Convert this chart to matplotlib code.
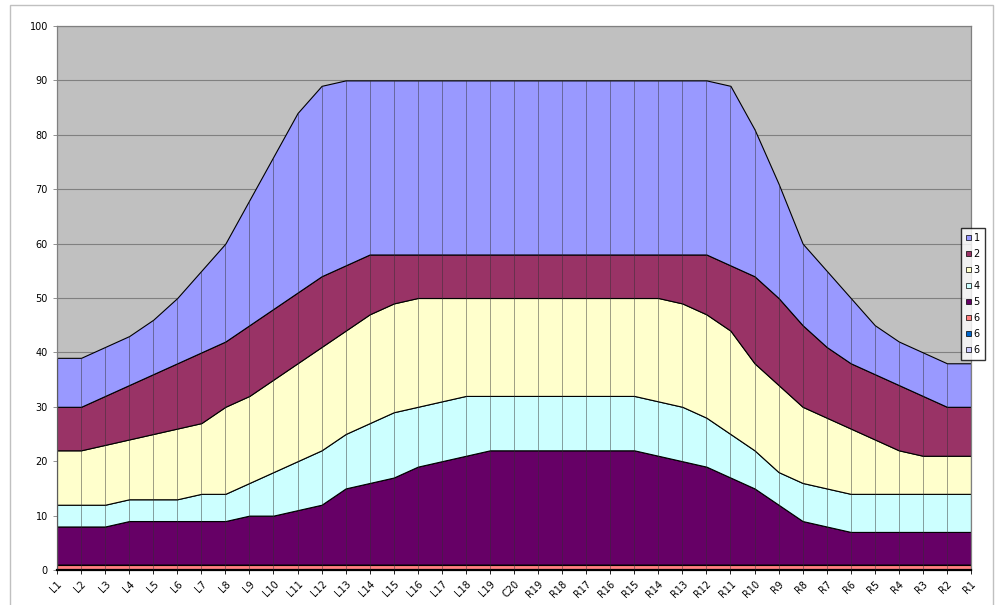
import matplotlib
matplotlib.use("Agg")
import matplotlib.pyplot as plt
from matplotlib.patches import Patch, Rectangle

labels = ["L1", "L2", "L3", "L4", "L5", "L6", "L7", "L8", "L9", "L10",
          "L11", "L12", "L13", "L14", "L15", "L16", "L17", "L18", "L19", "C20",
          "R19", "R18", "R17", "R16", "R15", "R14", "R13", "R12", "R11", "R10",
          "R9", "R8", "R7", "R6", "R5", "R4", "R3", "R2", "R1"]

# series values (stacked, bottom to top)
s6c = [0] * 39
s6b = [0] * 39
s6a = [1] * 39
s5 = [7, 7, 7, 8, 8, 8, 8, 8, 9, 9, 10, 11, 14, 15, 16, 18, 19, 20, 21, 21,
      21, 21, 21, 21, 21, 20, 19, 18, 16, 14, 11, 8, 7, 6, 6, 6, 6, 6, 6]
s4 = [4, 4, 4, 4, 4, 4, 5, 5, 6, 8, 9, 10, 10, 11, 12, 11, 11, 11, 10, 10,
      10, 10, 10, 10, 10, 10, 10, 9, 8, 7, 6, 7, 7, 7, 7, 7, 7, 7, 7]
s3 = [10, 10, 11, 11, 12, 13, 13, 16, 16, 17, 18, 19, 19, 20, 20, 20, 19, 18, 18, 18,
      18, 18, 18, 18, 18, 19, 19, 19, 19, 16, 16, 14, 13, 12, 10, 8, 7, 7, 7]
s2 = [8, 8, 9, 10, 11, 12, 13, 12, 13, 13, 13, 13, 12, 11, 9, 8, 8, 8, 8, 8,
      8, 8, 8, 8, 8, 8, 9, 11, 12, 16, 16, 15, 13, 12, 12, 12, 11, 9, 9]
s1 = [9, 9, 9, 9, 10, 12, 15, 18, 23, 28, 33, 35, 34, 32, 32, 32, 32, 32, 32, 32,
      32, 32, 32, 32, 32, 32, 32, 32, 33, 27, 21, 15, 14, 12, 9, 8, 8, 8, 8]

series = [s6c, s6b, s6a, s5, s4, s3, s2, s1]
names = ["6", "6", "6", "5", "4", "3", "2", "1"]
colors = ["#CCCCFF", "#0066CC", "#FF8080", "#660066", "#CCFFFF", "#FFFFCC", "#993366", "#9999FF"]

x = list(range(len(labels)))

fig = plt.figure(figsize=(9.96, 6.05), dpi=100)
# chart area frame
fig.patches.append(Rectangle((10 / 996, -0.01), 983 / 996, 1 - 5 / 605 + 0.01, transform=fig.transFigure,
                             fill=False, edgecolor="#c0c0c0", linewidth=1))
ax = fig.add_axes([57 / 996, 35 / 605, 914 / 996, 544 / 605])
ax.set_facecolor("#C0C0C0")

ax.stackplot(x, *series, colors=colors, edgecolor="black", linewidth=0.8, zorder=2)

# drop lines at each category
totals = [sum(v) for v in zip(*series)]
ax.vlines(x, 0, totals, colors="#303030", linewidth=0.6, alpha=0.55, zorder=3)

ax.set_xlim(0, len(labels) - 1)
ax.set_ylim(0, 100)
ax.set_yticks(range(0, 101, 10))
ax.yaxis.grid(True, color="#808080", linewidth=0.8, zorder=0)
ax.set_axisbelow(True)
ax.set_xticks(x)
ax.set_xticklabels(labels, rotation=45, ha="right", rotation_mode="anchor", fontsize=7)
ax.tick_params(axis="y", labelsize=7, length=3, width=0.6, color="#808080")
ax.tick_params(axis="x", length=3, width=0.6)

for side in ["top", "right", "left"]:
    ax.spines[side].set_color("#808080")
    ax.spines[side].set_linewidth(0.9)
ax.spines["bottom"].set_linewidth(1.6)

handles = [Patch(facecolor=c, edgecolor="black", linewidth=0.5, label=n)
           for c, n in zip(colors, names)]
handles = handles[::-1]
fig.legend(handles=handles, loc="upper left", bbox_to_anchor=(961 / 996, 1 - 228 / 605),
           fontsize=7, frameon=True, fancybox=False, edgecolor="black",
           handlelength=0.5, handleheight=0.5, handletextpad=0.3,
           labelspacing=0.62, borderpad=0.5, borderaxespad=0)

fig.savefig("out.png", dpi=100)
